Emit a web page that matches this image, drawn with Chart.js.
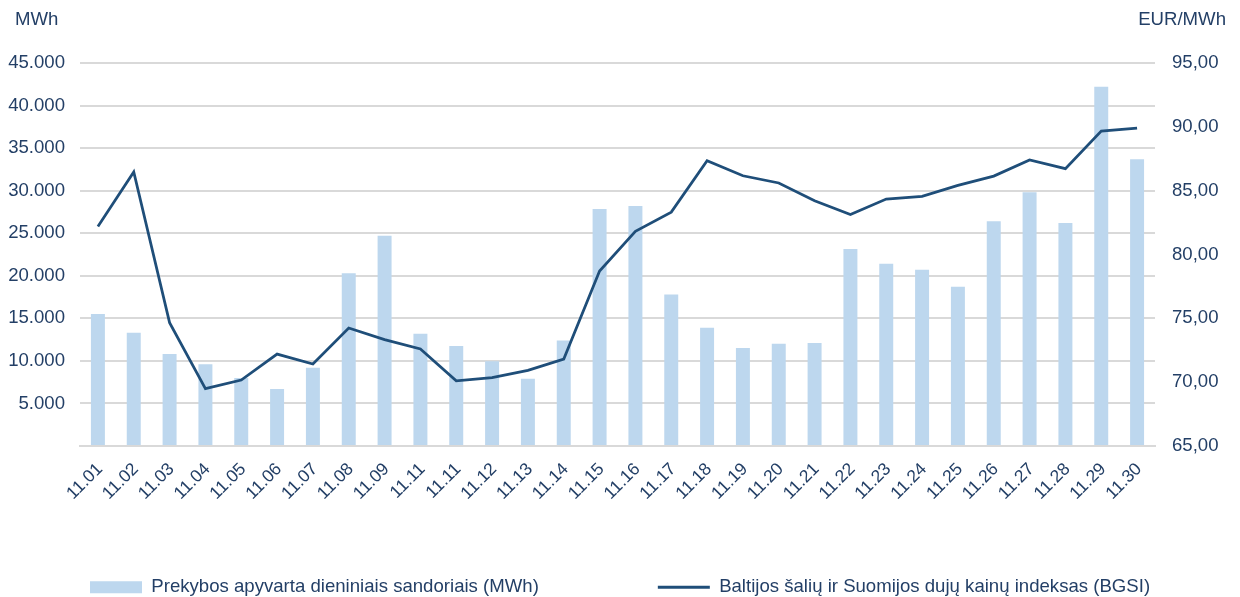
<!DOCTYPE html>
<html><head><meta charset="utf-8">
<script src="https://cdn.jsdelivr.net/npm/chart.js@4.4.1/dist/chart.umd.min.js"></script>
<style>html,body{margin:0;padding:0;background:#fff;}#wrap{width:1240px;height:597px;position:relative;}</style>
</head><body><div id="wrap"><canvas id="c"></canvas></div>
<script>
const categories = ["11.01","11.02","11.03","11.04","11.05","11.06","11.07","11.08","11.09","11.11","11.11","11.12","11.13","11.14","11.15","11.16","11.17","11.18","11.19","11.20","11.21","11.22","11.23","11.24","11.25","11.26","11.27","11.28","11.29","11.30"];
const turnoverMWh = [15500,13300,10800,9600,8000,6700,9200,20300,24700,13200,11750,9950,7900,12400,27850,28200,17800,13900,11500,12000,12100,23150,21400,20700,18700,26400,29800,26200,42200,33700];
const bgsiPrice = [82.2,86.46,74.66,69.5,70.17,72.2,71.42,74.24,73.33,72.6,70.11,70.35,70.93,71.81,78.7,81.81,83.32,87.34,86.17,85.6,84.21,83.14,84.34,84.55,85.41,86.14,87.4,86.72,89.67,89.9];
const seriesNames = ["Prekybos apyvarta dieniniais sandoriais (MWh)","Baltijos šalių ir Suomijos dujų kainų indeksas (BGSI)"];
const axisUnits = ["MWh","EUR/MWh"];
const leftRange = [0,45000,5000];
const rightRange = [65,95,5];

const textColor = '#233F66';
const barColor = '#BDD7EE';
const lineColor = '#1F4E79';
const gridColor = '#D9D9D9';
const FONT = '"Liberation Sans", Arial, sans-serif';
const FS = 18.6;

function fmtThousands(v){ return String(Math.round(v)).replace(/\B(?=(\d{3})+(?!\d))/g,'.'); }

const legendPlace = {
  id:'legendPlace',
  beforeLayout(chart){
    const lg = chart.legend;
    if (lg && !lg._patched){
      const fit = lg.fit;
      lg.fit = function(){
        const mw = this.maxWidth;
        this.maxWidth = 100000;
        fit.call(this);
        this.maxWidth = mw;
        this.width = mw;
        this.height = 61;
      };
      lg._patched = true;
    }
  },
  afterLayout(chart){
    const lg = chart.legend;
    const pad = lg.options.labels.padding;
    lg.top = 578 - pad;
    lg.bottom = chart.height;
    lg.height = lg.bottom - lg.top;
    lg.right = 3000;
    lg.left = 2 * 90 - pad - lg.right + lg.lineWidths[0];
    lg.width = lg.right - lg.left;
  }
};

const unitLabels = {
  id:'unitLabels',
  afterDraw(chart){
    const ctx = chart.ctx;
    ctx.save();
    ctx.font = FS + 'px ' + FONT;
    ctx.fillStyle = textColor;
    ctx.textBaseline = 'middle';
    ctx.textAlign = 'left';
    ctx.fillText(axisUnits[0], 15, 20);
    ctx.textAlign = 'right';
    ctx.fillText(axisUnits[1], 1226, 20);
    ctx.restore();
  }
};

new Chart(document.getElementById('c'), {
  type:'bar',
  data:{
    labels: categories,
    datasets:[
      {type:'bar', label:seriesNames[0], data:turnoverMWh, backgroundColor:barColor, barPercentage:0.39, categoryPercentage:1, yAxisID:'y', order:1},
      {type:'line', label:seriesNames[1], data:bgsiPrice, borderColor:lineColor, backgroundColor:lineColor, borderWidth:2.75, pointRadius:0, tension:0, fill:false, yAxisID:'y1', order:0}
    ]
  },
  options:{
    responsive:true, maintainAspectRatio:false, animation:false,
    layout:{padding:{top:63,left:0,right:0,bottom:0}},
    plugins:{
      tooltip:{enabled:false},
      legend:{
        position:'bottom',
        labels:{
          usePointStyle:true, pointStyleWidth:52, boxHeight:12, padding:119,
          color:textColor, font:{size:FS, family:FONT},
          sort:(a,b)=>a.datasetIndex-b.datasetIndex,
          generateLabels(chart){
            const items = Chart.defaults.plugins.legend.labels.generateLabels(chart);
            items.forEach(it=>{
              const ds = chart.data.datasets[it.datasetIndex];
              if (ds.type==='line'){ it.pointStyle='line'; it.strokeStyle=lineColor; it.fillStyle=lineColor; it.lineWidth=3; }
              else { it.pointStyle='rect'; it.fillStyle=barColor; it.strokeStyle=barColor; it.lineWidth=0; }
            });
            return items;
          }
        }
      }
    },
    scales:{
      x:{
        grid:{display:false},
        border:{display:true,color:gridColor,width:2},
        ticks:{minRotation:45,maxRotation:45,autoSkip:false,color:textColor,font:{size:17.5,family:FONT},padding:5,labelOffset:2},
        afterFit(s){ s.height = 90; }
      },
      y:{
        position:'left', min:leftRange[0], max:leftRange[1],
        ticks:{stepSize:leftRange[2], callback:v=> v===0 ? '' : fmtThousands(v), padding:15, color:textColor, font:{size:FS,family:FONT}},
        grid:{color:gridColor, lineWidth:2, drawTicks:false},
        border:{display:false},
        afterFit(s){ s.width = 80; }
      },
      y1:{
        position:'right', min:rightRange[0], max:rightRange[1],
        ticks:{stepSize:rightRange[2], callback:v=> Number(v).toFixed(2).replace('.',','), padding:17, color:textColor, font:{size:FS,family:FONT}},
        grid:{drawOnChartArea:false, drawTicks:false},
        border:{display:false},
        afterFit(s){ s.width = 85; }
      }
    }
  },
  plugins:[legendPlace, unitLabels]
});
</script></body></html>
